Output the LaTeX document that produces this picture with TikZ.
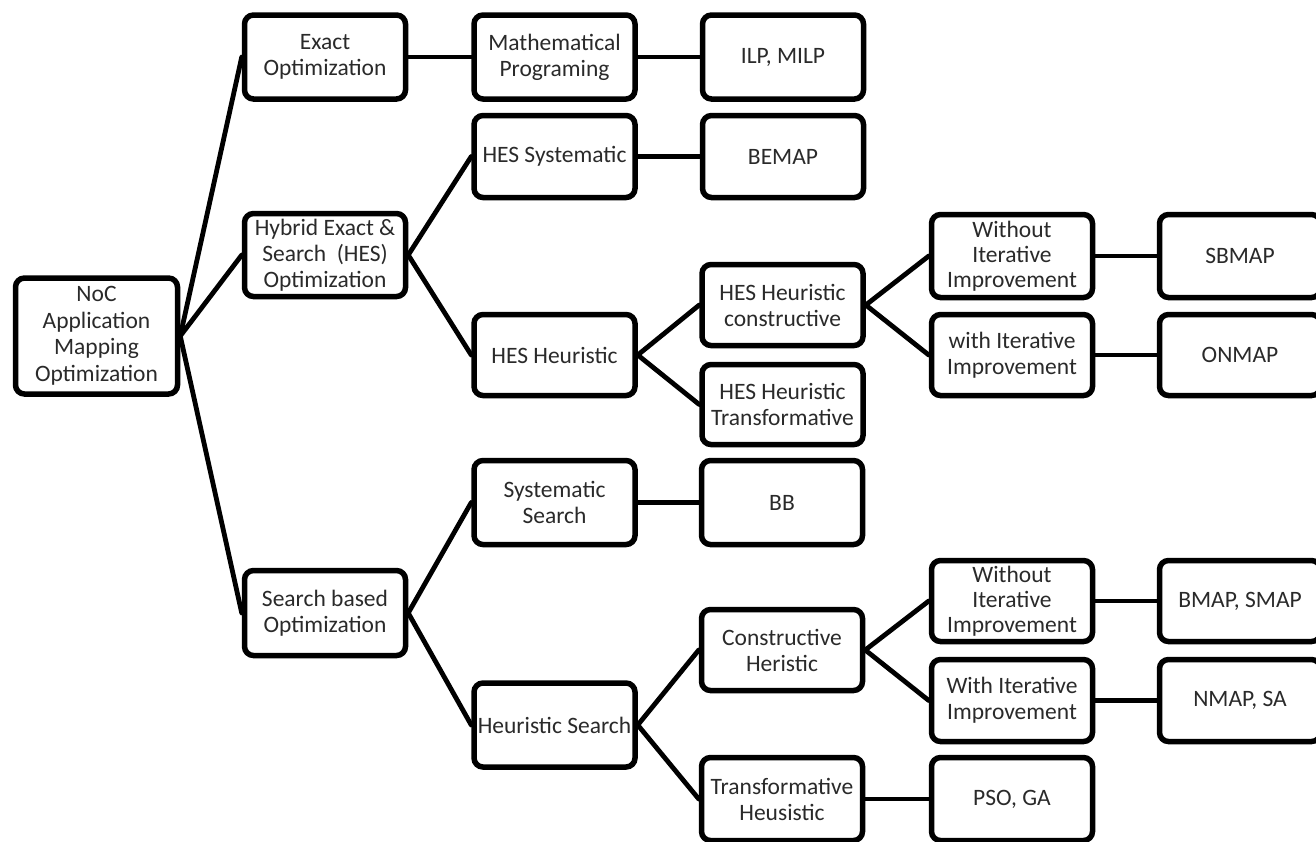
\documentclass[tikz,border=0pt]{standalone}
\usepackage{fontspec}
\setmainfont{Carlito}
\definecolor{txt}{HTML}{2A2A2A}
\tikzset{
  box/.style={draw=black, line width=5.5pt, rounded corners=9pt, fill=white,
    minimum width=161pt, minimum height=83pt, inner sep=0pt, align=center,
    text=txt, font=\fontsize{23.5}{26}\selectfont},
  tight/.style={font=\fontsize{23.5}{25}\selectfont},
  link/.style={line width=4.8pt, line cap=round}
}
\begin{document}
\begin{tikzpicture}[x=1pt,y=-1pt]
\useasboundingbox (0,0) rectangle (1316,841);
\clip (0,0) rectangle (1316,841);
\fill[white] (0,0) rectangle (1316,841);
% column 1
\node[box, minimum width=162pt, minimum height=116pt, font=\fontsize{23.5}{26.5}\selectfont] (noc) at (96.5,336) {NoC\\Application\\Mapping\\Optimization};
% column 2
\node[box, minimum height=84pt] (exact) at (325,57) {Exact\\Optimization};
\node[box] (hybrid) at (325,255) {Hybrid Exact \&\\Search~ (HES)\\Optimization};
\node[box, minimum height=85pt] (search) at (325,613) {Search based\\Optimization};
% column 3
\node[box, minimum height=84pt] (math) at (554.5,57) {Mathematical\\Programing};
\node[box, minimum height=82pt] (hessys) at (554.5,156.5) {HES Systematic};
\node[box, minimum height=81pt] (hesheu) at (554.5,355) {HES Heuristic};
\node[box, minimum height=84pt] (syss) at (554.5,502.5) {Systematic\\Search};
\node[box, minimum height=84pt] (heus) at (554.5,725) {Heuristic Search};
% column 4
\node[box, minimum height=84pt] (ilp) at (783,57) {ILP, MILP};
\node[box, minimum height=82pt] (bemap) at (783,156.5) {BEMAP};
\node[box, minimum height=81pt] (hesc) at (782.5,305) {HES Heuristic\\constructive};
\node[box, minimum height=80pt] (hest) at (782.5,404.5) {HES Heuristic\\Transformative};
\node[box, minimum height=84pt] (bb) at (782,502.5) {BB};
\node[box, minimum height=81pt] (ch) at (782,650) {Constructive\\Heristic};
\node[box] (th) at (782,799) {Transformative\\Heusistic};
% column 5
\node[box, tight] (wo1) at (1012,256) {Without\\Iterative\\Improvement};
\node[box, minimum height=81pt] (wi1) at (1012,355) {with Iterative\\Improvement};
\node[box, tight, minimum height=81pt] (wo2) at (1012,601) {Without\\Iterative\\Improvement};
\node[box, minimum height=82pt] (wi2) at (1012,700.5) {With Iterative\\Improvement};
\node[box] (pso) at (1012,799) {PSO, GA};
% column 6
\node[box] (sbmap) at (1240,256) {SBMAP};
\node[box, minimum height=81pt] (onmap) at (1240,355) {ONMAP};
\node[box, minimum height=81pt] (bmap) at (1240,601) {BMAP, SMAP};
\node[box, minimum height=82pt] (nmap) at (1240,700.5) {NMAP, SA};
% connectors
\draw[link] (noc.east) -- (exact.west);
\draw[link] (noc.east) -- (hybrid.west);
\draw[link] (noc.east) -- (search.west);
\draw[link] (exact.east) -- (math.west);
\draw[link] (math.east) -- (ilp.west);
\draw[link] (hybrid.east) -- (hessys.west);
\draw[link] (hybrid.east) -- (hesheu.west);
\draw[link] (hessys.east) -- (bemap.west);
\draw[link] (hesheu.east) -- (hesc.west);
\draw[link] (hesheu.east) -- (hest.west);
\draw[link] (hesc.east) -- (wo1.west);
\draw[link] (hesc.east) -- (wi1.west);
\draw[link] (wo1.east) -- (sbmap.west);
\draw[link] (wi1.east) -- (onmap.west);
\draw[link] (search.east) -- (syss.west);
\draw[link] (search.east) -- (heus.west);
\draw[link] (syss.east) -- (bb.west);
\draw[link] (heus.east) -- (ch.west);
\draw[link] (heus.east) -- (th.west);
\draw[link] (ch.east) -- (wo2.west);
\draw[link] (ch.east) -- (wi2.west);
\draw[link] (wo2.east) -- (bmap.west);
\draw[link] (wi2.east) -- (nmap.west);
\draw[link] (th.east) -- (pso.west);
\end{tikzpicture}
\end{document}
